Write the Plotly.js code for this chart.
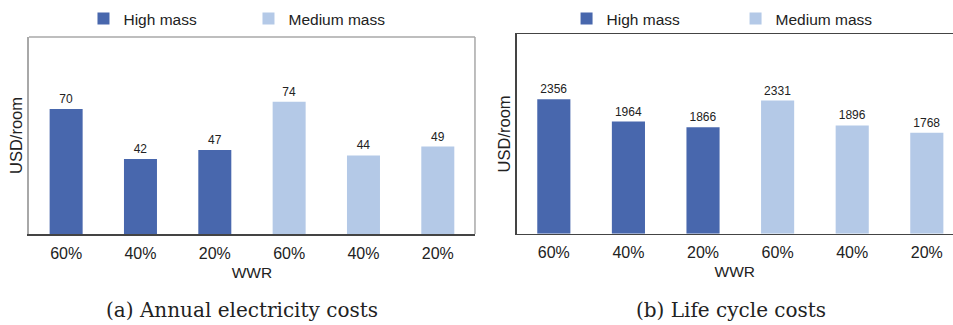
<!DOCTYPE html>
<html>
<head>
<meta charset="utf-8">
<script src="https://cdn.plot.ly/plotly-3.0.1.min.js"></script>
<style>html,body{margin:0;padding:0;background:#fff;}#chart{width:953px;height:325px;}</style>
</head>
<body>
<div id="chart"></div>
<script>
// ---- data ----
const wwrLabels = ['60%', '40%', '20%'];
const groupNames = ['High mass', 'Medium mass'];
const electricityHigh = [70, 42, 47];
const electricityMedium = [74, 44, 49];
const lifeCycleHigh = [2356, 1964, 1866];
const lifeCycleMedium = [2331, 1896, 1768];
const panelTitles = ['(a) Annual electricity costs', '(b) Life cycle costs'];
const xTitle = 'WWR';
const yTitle = 'USD/room';

// ---- styling ----
const colHigh = '#4867AD';
const colMed = '#B4C9E7';
const sans = 'Liberation Sans, Arial, sans-serif';
const txt = '#222222';

const cats = [];
groupNames.forEach(g => wwrLabels.forEach(w => cats.push(g + ' ' + w)));
const catsFor = g => wwrLabels.map(w => g + ' ' + w);
const tickText = groupNames.flatMap(() => wwrLabels);

function barTrace(g, vals, color, xa, ya, legend, showleg) {
  return {
    type: 'bar', name: g, x: catsFor(g), y: vals,
    xaxis: xa, yaxis: ya, legend: legend, showlegend: showleg,
    marker: {color: color, line: {width: 0}},
    width: 0.444,
    text: vals.map(String), textposition: 'outside', cliponaxis: false,
    textfont: {family: sans, size: 12, color: txt},
    hoverinfo: 'x+y'
  };
}

const data = [
  barTrace(groupNames[0], electricityHigh, colHigh, 'x', 'y', 'legend', true),
  barTrace(groupNames[1], electricityMedium, colMed, 'x', 'y', 'legend', true),
  barTrace(groupNames[0], lifeCycleHigh, colHigh, 'x2', 'y2', 'legend2', true),
  barTrace(groupNames[1], lifeCycleMedium, colMed, 'x2', 'y2', 'legend2', true)
];

function xaxisDef(domain, range, mirror, linecolor) {
  return {
    domain: domain, type: 'category', categoryorder: 'array', categoryarray: cats,
    tickmode: 'array', tickvals: cats, ticktext: tickText,
    range: range, showgrid: false, zeroline: false, ticks: '',
    showline: true, linecolor: linecolor, linewidth: 1.5, mirror: mirror,
    ticklabelstandoff: 4,
    tickfont: {family: sans, size: 16, color: txt},
    title: {text: xTitle, font: {family: sans, size: 15.5, color: txt}, standoff: 6},
    fixedrange: true
  };
}
function yaxisDef(domain, range, anchor, linecolor) {
  return {
    domain: domain, range: range, anchor: anchor,
    showgrid: false, zeroline: false, showticklabels: false, ticks: '',
    showline: true, linecolor: linecolor, linewidth: 1.5,
    title: {text: yTitle, font: {family: sans, size: 16.5, color: txt}, standoff: 0},
    fixedrange: true
  };
}

const legendBase = {
  orientation: 'h', xanchor: 'left', yanchor: 'middle', y: 0.9415,
  font: {family: sans, size: 15.5, color: txt},
  bgcolor: 'rgba(0,0,0,0)', borderwidth: 0,
  entrywidthmode: 'pixels', entrywidth: 120, traceorder: 'normal'
};

const layout = {
  width: 953, height: 325, autosize: false,
  margin: {l: 0, r: 0, t: 0, b: 0, pad: 0},
  paper_bgcolor: '#ffffff', plot_bgcolor: '#ffffff',
  barmode: 'overlay',
  xaxis: xaxisDef([0.0304, 0.4984], [-0.5, 5.5], false, '#444444'),
  yaxis: yaxisDef([0.28, 0.886], [0, 110.3], 'x', '#A8A8A8'),
  xaxis2: Object.assign(xaxisDef([0.542, 1], [-0.5, 5.351], true, '#444444'), {anchor: 'y2'}),
  yaxis2: yaxisDef([0.281, 0.895], [0, 3495], 'x2', '#444444'),
  legend: Object.assign({}, legendBase, {x: 0.0876}),
  legend2: Object.assign({}, legendBase, {x: 0.5945, entrywidth: 124}),
  shapes: [
    {type: 'line', xref: 'x domain', yref: 'y domain', x0: 0, x1: 1, y0: 1, y1: 1,
     line: {color: '#A8A8A8', width: 1.5}, layer: 'below'},
    {type: 'line', xref: 'x domain', yref: 'y domain', x0: 1, x1: 1, y0: 0, y1: 1,
     line: {color: '#A8A8A8', width: 1.5}, layer: 'below'}
  ],
  annotations: panelTitles.map((t, i) => ({
    text: t, xref: 'paper', yref: 'paper',
    x: i === 0 ? 242 / 953 : 731 / 953, y: 15 / 325,
    xanchor: 'center', yanchor: 'middle', showarrow: false,
    font: {family: 'DejaVu Serif, serif', size: 20, color: txt}
  }))
};

layout.xaxis.anchor = 'y';
Plotly.newPlot('chart', data, layout, {displayModeBar: false, staticPlot: true});
</script>
</body>
</html>
